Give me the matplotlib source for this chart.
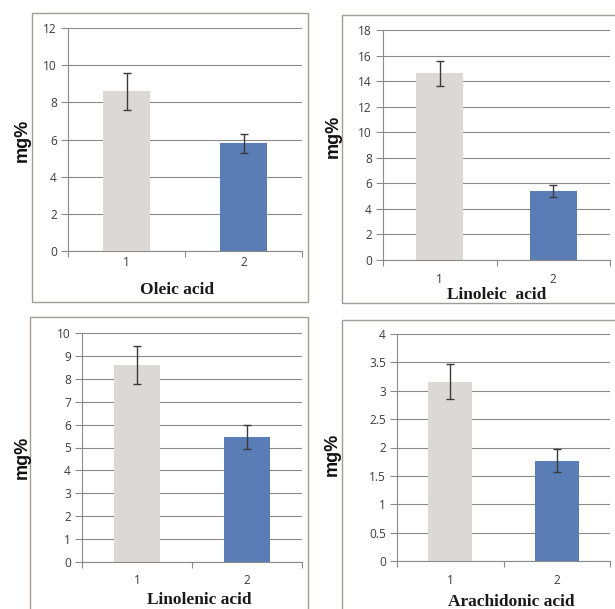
import matplotlib
matplotlib.use("Agg")
import matplotlib.pyplot as plt
from matplotlib.patches import Rectangle

W, H = 615, 609

categories = ["1", "2"]
acids = ["Oleic acid", "Linoleic  acid", "Linolenic acid", "Arachidonic acid"]
oleic = [8.6, 5.8]
oleic_err = [1.0, 0.5]
linoleic = [14.6, 5.4]
linoleic_err = [1.0, 0.5]
linolenic = [8.6, 5.45]
linolenic_err = [0.82, 0.52]
arachidonic = [3.16, 1.77]
arachidonic_err = [0.31, 0.2]
yticks_list = [
    [0, 2, 4, 6, 8, 10, 12],
    [0, 2, 4, 6, 8, 10, 12, 14, 16, 18],
    [0, 1, 2, 3, 4, 5, 6, 7, 8, 9, 10],
    [0, 0.5, 1, 1.5, 2, 2.5, 3, 3.5, 4],
]
ytick_labels_list = [
    ["0", "2", "4", "6", "8", "10", "12"],
    ["0", "2", "4", "6", "8", "10", "12", "14", "16", "18"],
    ["0", "1", "2", "3", "4", "5", "6", "7", "8", "9", "10"],
    ["0", "0.5", "1", "1.5", "2", "2.5", "3", "3.5", "4"],
]
values = [oleic, linoleic, linolenic, arachidonic]
errors = [oleic_err, linoleic_err, linolenic_err, arachidonic_err]

bar_colors = ["#DCD8D6", "#5B7DB5"]
grid_col = "#8A8A8A"
frame_col = "#A39C95"

# layout in pixels: axes (l, t, r, b), frame (l, t, r, b), tick pad, xlabel pos, ylabel pos
axes_px = [(68, 28, 302, 251), (383, 30, 610, 260), (82, 333, 302, 562), (397, 334, 610, 561)]
frames_px = [(32, 13, 308, 302), (342, 15, 640, 303), (30, 317, 308, 640), (342, 320, 640, 640)]
tick_pads = [3.8, 9.5, 9.0, 9.5]
xlabel_px = [(177, 290), (497, 295), (199, 600), (511, 602)]
ylabel_px = [(22, 140), (333, 136), (22, 457), (332, 454)]

fig = plt.figure(figsize=(W / 100, H / 100), dpi=100)
fig.patch.set_facecolor("white")

for (fl, ft, fr, fb) in frames_px:
    fig.patches.append(Rectangle((fl / W, 1 - fb / H), (fr - fl) / W, (fb - ft) / H,
                                 transform=fig.transFigure, fill=False,
                                 edgecolor=frame_col, linewidth=1.0, zorder=0))

for i in range(4):
    l, t, r, b = axes_px[i]
    ax = fig.add_axes([l / W, 1 - b / H, (r - l) / W, (b - t) / H])
    ax.set_facecolor("none")
    x = list(range(len(categories)))
    ax.bar(x, values[i], width=0.41, color=bar_colors, zorder=2)
    ax.errorbar(x, values[i], yerr=errors[i], fmt="none", ecolor="#3A3A3A",
                elinewidth=1.0, capsize=2.8, capthick=1.0, zorder=3)
    yt = yticks_list[i]
    ax.set_ylim(yt[0], yt[-1])
    ax.set_yticks(yt)
    ax.set_yticklabels(ytick_labels_list[i], fontfamily="Open Sans", fontsize=8.6, color="#3C3C3C")
    ax.set_xlim(-0.5, 1.5)
    ax.set_xticks(x)
    ax.set_xticklabels(categories, fontfamily="Open Sans", fontsize=8.6, color="#3C3C3C")
    ax.set_xticks([-0.5, 0.5, 1.5], minor=True)
    ax.tick_params(axis="x", which="major", length=0, pad=tick_pads[i])
    ax.tick_params(axis="x", which="minor", length=4, width=0.8, color=grid_col, direction="out")
    ax.tick_params(axis="y", length=5, width=0.8, color=grid_col, direction="out", pad=3)
    ax.grid(axis="y", color=grid_col, linewidth=0.8, zorder=1)
    ax.set_axisbelow(True)
    for s in ["top", "right"]:
        ax.spines[s].set_visible(False)
    for s in ["left", "bottom"]:
        ax.spines[s].set_color(grid_col)
        ax.spines[s].set_linewidth(0.8)
    xp, yp = xlabel_px[i]
    fig.text(xp / W, 1 - yp / H, acids[i], ha="center", va="center",
             fontfamily="Liberation Serif", fontweight="bold", fontsize=12.5, color="#1a1a1a")
    xp, yp = ylabel_px[i]
    fig.text(xp / W, 1 - yp / H, "mg%", ha="center", va="center", rotation=90,
             fontfamily="Liberation Sans", fontweight="bold", fontsize=13, color="#111111")

fig.savefig("out.png", dpi=100, facecolor="white")
